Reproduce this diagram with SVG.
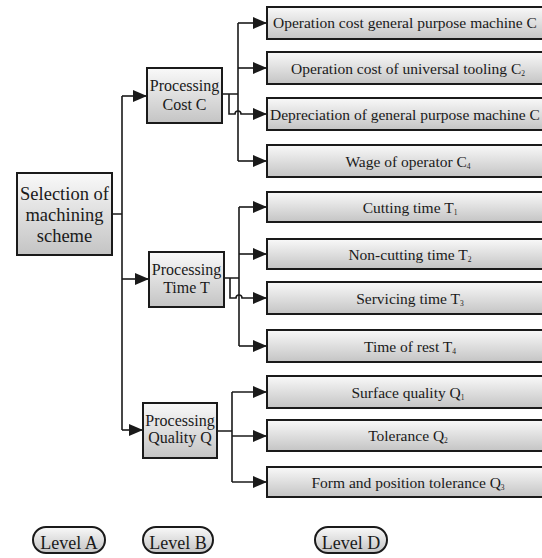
<svg xmlns="http://www.w3.org/2000/svg" width="542" height="558" viewBox="0 0 542 558">
<defs>
<linearGradient id="g" x1="0" y1="0" x2="0" y2="1">
<stop offset="0" stop-color="#f9f9f9"/>
<stop offset="1" stop-color="#c4c4c4"/>
</linearGradient>
<marker id="ah" markerUnits="userSpaceOnUse" markerWidth="14" markerHeight="12" refX="14" refY="6" orient="auto">
<path d="M0,0 L14,6 L0,12 z" fill="#1a1a1a"/>
</marker>
<style>
.box{fill:url(#g);stroke:#1a1a1a;stroke-width:2}
.t{fill:#1a1a1a;text-anchor:middle}
.c{font-size:15.5px}
.b{font-size:16px}
.a{font-size:18.5px}
.l{font-size:18px}
.sub{font-size:7.5px}
.ln{fill:none;stroke:#1a1a1a;stroke-width:1.6}
.ar{fill:none;stroke:#1a1a1a;stroke-width:1.6;marker-end:url(#ah)}
</style>
</defs>
<rect width="542" height="558" fill="#ffffff"/>

<g id="connectors">
<path class="ln" d="M112,214 H122 M122,96 V430"/>
<path class="ar" d="M122,96 H147"/>
<path class="ar" d="M122,279 H149"/>
<path class="ar" d="M122,430 H143"/>
<path class="ln" d="M222,94 H238 M238,23 V161"/>
<path class="ar" d="M238,23 H267"/>
<path class="ar" d="M238,68 H267"/>
<path class="ar" d="M229,94 V114 H235 A3,3 0 0 1 241,114 H267"/>
<path class="ar" d="M238,161 H267"/>
<path class="ln" d="M224,278 H239 M239,207 V346"/>
<path class="ar" d="M239,207 H267"/>
<path class="ar" d="M239,254 H267"/>
<path class="ar" d="M230,278 V298 H236 A3,3 0 0 1 242,298 H267"/>
<path class="ar" d="M239,346 H267"/>
<path class="ln" d="M217,431 H232 M232,392 V482"/>
<path class="ar" d="M232,392 H267"/>
<path class="ar" d="M232,436 H267"/>
<path class="ar" d="M232,482 H267"/>
</g>

<g id="nodes" font-family="'Liberation Serif', 'Times New Roman', 'DejaVu Serif', serif">
<g id="selection">
<rect class="box" x="17" y="173" width="95" height="82"/>
<text class="t a" x="64.5" y="200">Selection of</text>
<text class="t a" x="64.5" y="221">machining</text>
<text class="t a" x="64.5" y="242">scheme</text>
</g>

<g id="cost">
<rect class="box" x="147" y="68" width="75" height="55"/>
<text class="t b" x="184.5" y="91">Processing</text>
<text class="t b" x="184.5" y="110">Cost C</text>
</g>
<g id="time">
<rect class="box" x="149" y="252" width="75" height="55"/>
<text class="t b" x="186.5" y="275">Processing</text>
<text class="t b" x="186.5" y="293">Time T</text>
</g>
<g id="quality">
<rect class="box" x="143" y="403" width="74" height="55"/>
<text class="t b" x="180" y="426">Processing</text>
<text class="t b" x="180" y="443">Quality Q</text>
</g>

<g id="c1">
<rect class="box" x="267" y="7" width="285" height="32"/>
<text class="t c" x="273" y="28" text-anchor="start" style="text-anchor:start">Operation cost general purpose machine C</text>
</g>
<g id="c2">
<rect class="box" x="267" y="52" width="285" height="32"/>
<text class="t c" x="408" y="73.5">Operation cost of universal tooling C<tspan class="sub" dy="2">2</tspan></text>
</g>
<g id="c3">
<rect class="box" x="267" y="98" width="285" height="32"/>
<text class="t c" x="270" y="119.5" style="text-anchor:start">Depreciation of general purpose machine C</text>
</g>
<g id="c4">
<rect class="box" x="267" y="145" width="285" height="32"/>
<text class="t c" x="408" y="166.5">Wage of operator C<tspan class="sub" dy="2">4</tspan></text>
</g>

<g id="t1">
<rect class="box" x="267" y="192" width="285" height="30"/>
<text class="t c" x="410" y="212.5">Cutting time T<tspan class="sub" dy="2">1</tspan></text>
</g>
<g id="t2">
<rect class="box" x="267" y="239" width="285" height="30"/>
<text class="t c" x="410" y="259.5">Non-cutting time T<tspan class="sub" dy="2">2</tspan></text>
</g>
<g id="t3">
<rect class="box" x="267" y="282" width="285" height="32"/>
<text class="t c" x="410" y="303.5">Servicing time T<tspan class="sub" dy="2">3</tspan></text>
</g>
<g id="t4">
<rect class="box" x="267" y="330" width="285" height="32"/>
<text class="t c" x="410" y="351.5">Time of rest T<tspan class="sub" dy="2">4</tspan></text>
</g>

<g id="q1">
<rect class="box" x="267" y="376" width="285" height="32"/>
<text class="t c" x="408" y="397.5">Surface quality Q<tspan class="sub" dy="2">1</tspan></text>
</g>
<g id="q2">
<rect class="box" x="267" y="420" width="285" height="31"/>
<text class="t c" x="408" y="441">Tolerance Q<tspan class="sub" dy="2">2</tspan></text>
</g>
<g id="q3">
<rect class="box" x="267" y="467" width="285" height="30"/>
<text class="t c" x="408" y="487.5">Form and position tolerance Q<tspan class="sub" dy="2">3</tspan></text>
</g>

<g id="levelA">
<rect class="box" x="33" y="527" width="72" height="26" rx="13"/>
<text class="t l" x="69" y="549">Level A</text>
</g>
<g id="levelB">
<rect class="box" x="143" y="527" width="70" height="26" rx="13"/>
<text class="t l" x="178" y="549">Level B</text>
</g>
<g id="levelD">
<rect class="box" x="315" y="527" width="72" height="26" rx="13"/>
<text class="t l" x="351" y="549">Level D</text>
</g>
</g>
</svg>
